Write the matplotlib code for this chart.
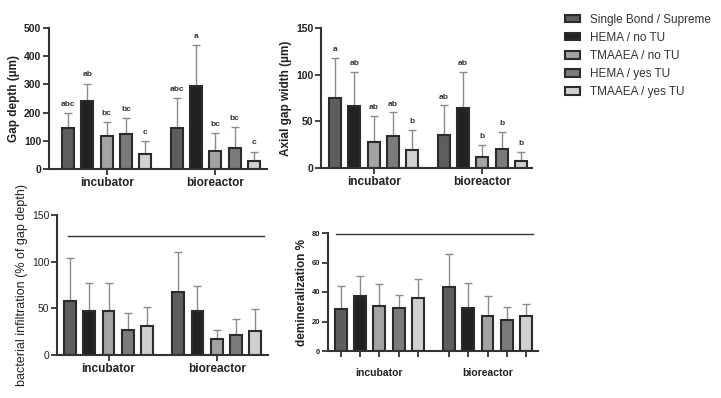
import matplotlib
matplotlib.use("Agg")
import matplotlib.pyplot as plt
import numpy as np

plt.rcParams["font.family"] = ["Liberation Sans", "DejaVu Sans"]

groups = ["incubator", "bioreactor"]
series = ["Single Bond / Supreme", "HEMA / no TU", "TMAAEA / no TU", "HEMA / yes TU", "TMAAEA / yes TU"]
colors = ["#5e5e5e", "#222222", "#a3a3a3", "#7b7b7b", "#d0d0d0"]

# values: [incubator x5, bioreactor x5]
gap_mean = [144, 242, 118, 123, 54, 145, 295, 65, 76, 27]
gap_top = [198, 303, 166, 180, 98, 252, 441, 127, 148, 62]
gap_letters = ["abc", "ab", "bc", "bc", "c", "abc", "a", "bc", "bc", "c"]

axial_mean = [75.5, 66.5, 28, 34.5, 19.5, 35.5, 64, 12, 20.5, 8]
axial_top = [118, 103, 56, 59.5, 41, 67, 103, 24.5, 38.5, 17]
axial_letters = ["a", "ab", "ab", "ab", "b", "ab", "ab", "b", "b", "b"]

bact_mean = [58, 47.5, 47, 27, 31.5, 67, 47, 17, 21.5, 26]
bact_top = [104, 77, 77, 44.5, 51, 110, 74, 26.5, 39, 49]
bact_line = 128

demin_mean = [28.8, 37, 30.2, 29, 35.6, 43.3, 29.3, 23.8, 21.3, 24]
demin_top = [43.8, 50.6, 45.6, 38.3, 48.5, 65.8, 46, 37.2, 29.7, 31.7]
demin_line = 79

fig = plt.figure(figsize=(7.21, 3.98), dpi=100)
W, H = 721, 398

def mk_ax(l, r, t, b):
    return fig.add_axes([l / W, 1 - b / H, (r - l) / W, (b - t) / H])

EDGE = "#2b2b2b"
ERRC = "#8c8c8c"
GAP = 5.63
pos = np.array([i + g * GAP for g in range(2) for i in range(5)])
centers = [2, 2 + GAP]

def draw(ax, mean, top, ylim, yticks, ylabel, xlim, tick_bold=True, ylab_bold=True, tick_fs=7.5,
         each_tick=False, ylab_fs=8.5):
    mean = np.array(mean); top = np.array(top)
    for k in range(10):
        ax.bar(pos[k], mean[k], width=0.62, color=colors[k % 5], edgecolor=EDGE, linewidth=1.5, zorder=2,
               label=series[k] if k < 5 else None)
    err = top - mean
    ax.errorbar(pos, mean, yerr=[np.zeros(10), err], fmt="none", ecolor=ERRC, elinewidth=1.0,
                capsize=2.8, capthick=1.0, zorder=1)
    ax.set_ylim(*ylim)
    ax.set_yticks(yticks)
    ax.set_xlim(*xlim)
    for s in ["top", "right"]:
        ax.spines[s].set_visible(False)
    for s in ["left", "bottom"]:
        ax.spines[s].set_linewidth(1.5)
        ax.spines[s].set_color("#333333")
    ax.tick_params(axis="both", width=1.3, length=4, color="#333333", labelsize=tick_fs, pad=1.5,
                   labelcolor="#222222")
    for lab in ax.get_yticklabels():
        lab.set_fontweight("bold" if tick_bold else "normal")
    ax.set_ylabel(ylabel, fontsize=ylab_fs, fontweight="bold" if ylab_bold else "normal", color="#222222", labelpad=3)
    if each_tick:
        ax.set_xticks(pos)
        ax.set_xticklabels([])
        for c, g in zip(centers, groups):
            ax.text(c, -0.14, g, transform=ax.get_xaxis_transform(), ha="center", va="top",
                    fontsize=7.5, fontweight="bold", color="#222222")
    else:
        ax.set_xticks(centers)
        ax.set_xticklabels(groups, fontsize=8.5, fontweight="bold", color="#222222")
    return ax

ax1 = mk_ax(49, 267, 28, 169)
draw(ax1, gap_mean, gap_top, (0, 500), [0, 100, 200, 300, 400, 500], "Gap depth (µm)", (-0.98, 10.3))
for k in range(10):
    ax1.text(pos[k], gap_top[k] + 18, gap_letters[k], ha="center", va="bottom", fontsize=6,
             fontweight="bold", color="#333333")

ax2 = mk_ax(321, 532, 28, 168)
draw(ax2, axial_mean, axial_top, (0, 150), [0, 50, 100, 150], "Axial gap width (µm)", (-0.73, 10.2))
for k in range(10):
    ax2.text(pos[k], axial_top[k] + 5, axial_letters[k], ha="center", va="bottom", fontsize=6,
             fontweight="bold", color="#333333")

ax3 = mk_ax(57, 268, 215, 355)
draw(ax3, bact_mean, bact_top, (0, 150), [0, 50, 100, 150], "bacterial infiltration (% of gap depth)",
     (-0.68, 10.3), tick_bold=False, ylab_bold=False, ylab_fs=9)
ax3.plot([pos[0] - 0.1, pos[-1] + 0.45], [bact_line, bact_line], color="#333333", lw=1.0)

ax4 = mk_ax(328, 538, 233, 351)
draw(ax4, demin_mean, demin_top, (0, 80), [0, 20, 40, 60, 80], "demineralization %",
     (-0.68, 10.26), tick_fs=5.5, each_tick=True)
ax4.plot([pos[0] - 0.25, pos[-1] + 0.35], [demin_line, demin_line], color="#333333", lw=1.0)

h, l = ax1.get_legend_handles_labels()
leg = fig.legend(h, l, loc="upper left", bbox_to_anchor=(560 / W, 1 - 9 / H), frameon=False,
                 fontsize=8.5, handlelength=1.3, handleheight=0.6, labelspacing=0.52, handletextpad=0.8,
                 borderaxespad=0)
for t in leg.get_texts():
    t.set_color("#333333")

fig.savefig("out.png", dpi=100, facecolor="white")
